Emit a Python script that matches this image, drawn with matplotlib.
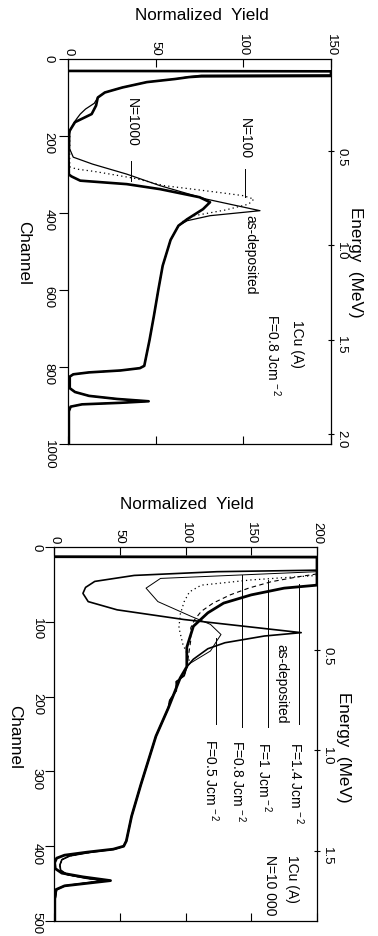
"""
RBS spectra of 1Cu(A) multilayers after laser pulses (scanned figure, rotated 90 deg).
Two panels: N-pulse series at F=0.8 Jcm^-2 (top) and fluence series at N=10 000 (bottom).
"""
import numpy as np
import matplotlib
matplotlib.use('Agg')
import matplotlib.pyplot as plt
import matplotlib.transforms as mtransforms
from matplotlib import font_manager

# ============================================================
# data (channel, normalized yield)
# ============================================================
# --- panel 1 : 1Cu(A), F = 0.8 Jcm-2 ---
P1_ASDEP_CH = [0, 31, 32, 41, 42, 46, 52, 60, 74, 87, 100, 115, 130, 143, 155, 165, 178, 190,
               200, 234, 255, 273, 299, 329, 364, 394, 407, 420]
P1_ASDEP_Y = [0, 0, 170, 170, 76, 69, 61, 45, 31, 21, 17, 15, 10, 7, 5, 3.5, 2, 1,
              1, 1, 3, 14, 33.5, 52.5, 79, 109.5, 81, 68]

P1_N100_CH = [200, 240, 280, 286, 292, 299, 310, 329, 346, 355, 364, 377, 392, 407, 420]
P1_N100_Y = [1, 1, 1, 5, 15, 24, 38, 55, 85, 100, 106, 103, 90, 72, 66]

P1_N1000_CH = [31, 32, 44, 45, 47, 52, 60, 74, 87, 100, 121, 143, 164, 186, 195, 250,
               300, 305, 316, 325, 338, 359, 372, 390, 416]
P1_N1000_Y = [0, 150, 150, 76, 69, 61, 45, 31, 21, 17, 16, 13.5, 4, 1, 0.5, 0.3,
              0.5, 2, 7, 33.5, 52.5, 75, 81, 77, 68]

# common tail (Cu plateau + substrate peak)
P1_TAIL_CH = [433, 470, 537, 600, 667, 730, 797, 803, 809, 814, 819, 825, 855, 865, 875,
              883, 889, 893, 897, 903, 915, 1000]
P1_TAIL_Y = [63, 58.5, 54, 51.5, 49, 46.5, 43.5, 41, 30, 12, 3, 1, 1, 4, 12,
             28, 46, 30, 8, 1.5, 0.5, 0.5]

# --- panel 2 : 1Cu(A), N = 10 000 ---
P2_ASDEP_CH = [0, 13, 13.5, 30, 31, 33, 38, 46, 54, 62, 73, 84, 97, 114.5, 119, 128, 136, 150]
P2_ASDEP_Y = [0, 0, 215, 215, 200, 124, 61, 31, 24, 22, 26, 48, 99, 188, 160, 130, 117, 106]

P2_F05_CH = [13, 13.5, 31, 33, 42, 55, 73, 92.5, 103.5, 117, 125, 139, 155]
P2_F05_Y = [0, 215, 215, 200, 81, 70, 79, 104, 119, 127, 124, 119, 104]

P2_F08_CH = [38, 44, 51, 60, 73, 90, 108, 130, 150]
P2_F08_Y = [200, 150, 112, 103, 99, 96, 95, 98, 103]

P2_F10_CH = [36, 40, 46.5, 55, 64, 75, 86, 97, 108, 125]
P2_F10_Y = [200, 185, 165, 148, 134, 121, 112, 107, 104, 104]

P2_F14_CH = [13, 13.5, 49, 51, 55, 64, 75, 88, 106, 134]
P2_F14_Y = [0, 200, 200, 200, 175, 150, 129, 117, 106, 101]

P2_TAIL_CH = [160, 175, 215, 253, 318, 360, 393, 400, 404, 408, 412, 416, 422, 430, 436,
              441, 446, 449, 453, 458, 470, 500]
P2_TAIL_Y = [101, 96, 87, 77.5, 66, 59, 55, 53, 45, 25, 8, 2, 0.5, 1, 6,
             22, 43, 28, 8, 1.5, 0.5, 0.5]

P2_TAIL_THIN_CH = [160, 172, 180, 192, 205, 215, 253, 318, 360, 393, 400, 404, 408, 413,
                   418, 425, 432, 438, 443, 446, 449, 453, 458, 470, 500]
P2_TAIL_THIN_Y = [101, 99, 93, 93, 88, 87, 77.5, 66, 59, 55, 53, 46, 28, 12,
                  6, 4.5, 5, 10, 25, 38, 25, 8, 2, 1, 1]

# axes
P1_YIELD_TICKS = [0, 50, 100, 150]
P1_CH_TICKS = [0, 200, 400, 600, 800, 1000]
P2_YIELD_TICKS = [0, 50, 100, 150, 200]
P2_CH_TICKS = [0, 100, 200, 300, 400, 500]
E_TICKS_P1 = [0.5, 1.0, 1.5, 2.0]
E_TICKS_P2 = [0.5, 1.0, 1.5]

# energy calibration (channel = k*E + c)
P1_CAL = (490.0, -6.0)
P2_CAL = (268.0, 4.0)


# ============================================================
# fonts
# ============================================================
_names = {f.name for f in font_manager.fontManager.ttflist}
SMALL_FONT = 'Liberation Sans Narrow' if 'Liberation Sans Narrow' in _names else 'Liberation Sans'
plt.rcParams['font.family'] = [SMALL_FONT, 'DejaVu Sans']
plt.rcParams['mathtext.fontset'] = 'custom'
plt.rcParams['mathtext.rm'] = SMALL_FONT
plt.rcParams['mathtext.it'] = SMALL_FONT
plt.rcParams['mathtext.default'] = 'rm'

W, H = 378, 937


def px(x, y):
    """pixel -> figure fraction"""
    return x / W, 1 - y / H


def setup_axes(ax, xmax, ymax, xticks, yticks, cal, eticks, ypad):
    ax.set_xlim(0, xmax)
    ax.set_ylim(ymax, 0)
    ax.set_xticks(xticks)
    ax.set_yticks(yticks)
    ax.tick_params(axis='x', direction='in', top=True, bottom=True,
                   labeltop=True, labelbottom=False, length=6, width=0.8,
                   labelrotation=-90, labelsize=9.5, pad=3)
    ax.tick_params(axis='y', direction='out', left=True, right=False,
                   length=6.5, width=0.8, labelrotation=-90, labelsize=9.5, pad=ypad)
    for s in ax.spines.values():
        s.set_linewidth(0.9)
    ax.spines['right'].set_visible(False)

    k, c = cal
    sec = ax.secondary_yaxis('right', functions=(lambda ch: (ch - c) / k,
                                                  lambda e: e * k + c))
    sec.set_yticks(eticks)
    sec.yaxis.set_major_formatter('{x:.1f}')
    sec.tick_params(direction='inout', length=5, width=0.8,
                    labelrotation=-90, labelsize=9.5, pad=0.5)
    sec.spines['right'].set_linewidth(0.9)
    return sec


def add_label(ax, x, y, text, size=10):
    ax.text(x, y, text, rotation=270, ha='center', va='top', fontsize=size,
            clip_on=False)


def leader(ax, x, y0, y1):
    ax.plot([x, x], [y0, y1], color='k', lw=0.7)


fig = plt.figure(figsize=(W / 100, H / 100), dpi=100)

# ------------------------------------------------------------
# panel 1
# ------------------------------------------------------------
ax1 = fig.add_axes([68 / W, 1 - 445 / H, 263 / W, 385 / H])
setup_axes(ax1, 150, 1000, P1_YIELD_TICKS, P1_CH_TICKS, P1_CAL, E_TICKS_P1, ypad=3)

ax1.plot(np.concatenate([P1_N100_Y, P1_TAIL_Y]), np.concatenate([P1_N100_CH, P1_TAIL_CH]),
         color='k', lw=0.9, ls=(0, (1, 2.5)))
ax1.plot(np.concatenate([P1_ASDEP_Y, P1_TAIL_Y]), np.concatenate([P1_ASDEP_CH, P1_TAIL_CH]),
         color='k', lw=0.9)
ax1.plot(np.concatenate([P1_N1000_Y, P1_TAIL_Y]), np.concatenate([P1_N1000_CH, P1_TAIL_CH]),
         color='k', lw=1.9)

add_label(ax1, 36.5, 99, 'N=1000')
leader(ax1, 36, 265, 318)
add_label(ax1, 101, 151, 'N=100')
leader(ax1, 101, 286, 358)
add_label(ax1, 104, 403, 'as-deposited')
add_label(ax1, 130.5, 675, '1Cu (A)')
add_label(ax1, 117, 660, r'F=0.8 Jcm$^{\,-2}$')

# ------------------------------------------------------------
# panel 2
# ------------------------------------------------------------
ax2 = fig.add_axes([54 / W, 1 - 922 / H, 263 / W, 374 / H])
setup_axes(ax2, 200, 500, P2_YIELD_TICKS, P2_CH_TICKS, P2_CAL, E_TICKS_P2, ypad=1.5)

# last channel label sits at the very bottom of the page: nudge it up a little
last = ax2.yaxis.get_major_ticks()[-1].label1
last.set_transform(last.get_transform()
                   + mtransforms.ScaledTranslation(0, 6 / 100, fig.dpi_scale_trans))

ax2.plot(np.concatenate([P2_F05_Y, P2_TAIL_THIN_Y]), np.concatenate([P2_F05_CH, P2_TAIL_THIN_CH]),
         color='k', lw=0.7)
ax2.plot(np.concatenate([P2_F08_Y, P2_TAIL_THIN_Y]), np.concatenate([P2_F08_CH, P2_TAIL_THIN_CH]),
         color='k', lw=0.9, ls=(0, (1, 2.5)))
ax2.plot(np.concatenate([P2_F10_Y, P2_TAIL_Y]), np.concatenate([P2_F10_CH, P2_TAIL_CH]),
         color='k', lw=0.8, ls=(0, (4, 3)))
ax2.plot(np.concatenate([P2_ASDEP_Y, P2_TAIL_THIN_Y]), np.concatenate([P2_ASDEP_CH, P2_TAIL_THIN_CH]),
         color='k', lw=1.2)
ax2.plot(np.concatenate([P2_F14_Y, P2_TAIL_Y]), np.concatenate([P2_F14_CH, P2_TAIL_CH]),
         color='k', lw=2.0)

leader(ax2, 186, 50, 237)
leader(ax2, 163, 44, 240)
leader(ax2, 143, 38, 240)
leader(ax2, 123, 121, 237)
add_label(ax2, 184, 259, r'F=1.4 Jcm$^{\,-2}$')
add_label(ax2, 173, 129, 'as-deposited')
add_label(ax2, 160, 259, r'F=1 Jcm$^{\,-2}$')
add_label(ax2, 140, 257, r'F=0.8 Jcm$^{\,-2}$')
add_label(ax2, 120, 255, r'F=0.5 Jcm$^{\,-2}$')
add_label(ax2, 181, 411, '1Cu (A)')
add_label(ax2, 164, 410, 'N=10 000')

# ------------------------------------------------------------
# axis titles
# ------------------------------------------------------------
TITLE = dict(family=['Liberation Sans', 'DejaVu Sans'], fontsize=12.3,
             ha='center', va='center')
fig.text(*px(202, 16), 'Normalized  Yield', **TITLE)
fig.text(*px(24, 253), 'Channel', rotation=270, **TITLE)
fig.text(*px(356, 262), 'Energy  (MeV)', rotation=270, **TITLE)
fig.text(*px(187, 505), 'Normalized  Yield', **TITLE)
fig.text(*px(15, 737), 'Channel', rotation=270, **TITLE)
fig.text(*px(344, 747), 'Energy  (MeV)', rotation=270, **TITLE)

fig.savefig('out.png', dpi=100, facecolor='white')
